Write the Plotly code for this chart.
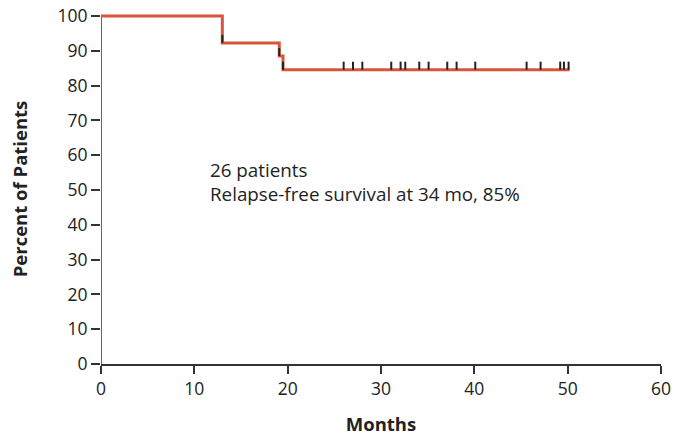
import plotly.graph_objects as go

# Kaplan-Meier step curve (months, percent)
step_months = [0, 13.0, 13.0, 19.1, 19.1, 19.5, 19.5, 50.2]
step_pct = [100, 100, 92.3, 92.3, 88.5, 88.5, 84.6, 84.6]

# Censor marks (months, percent level)
censor_months = [13.0, 19.1, 19.5, 26.0, 27.0, 28.0, 31.1, 32.1, 32.6, 34.1, 35.1,
                 37.1, 38.1, 40.1, 45.6, 47.1, 49.2, 49.6, 50.1]
censor_pct = [92.3, 88.5, 84.6] + [84.6] * 16

x_ticks = [0, 10, 20, 30, 40, 50, 60]
y_ticks = [0, 10, 20, 30, 40, 50, 60, 70, 80, 90, 100]

FONT = "Open Sans"
AX = "#333333"
TICK_H = 2.3

cx, cy = [], []
for m, p in zip(censor_months, censor_pct):
    cx += [m, m, None]
    cy += [p, p + TICK_H, None]

fig = go.Figure()
fig.add_trace(go.Scatter(x=step_months, y=step_pct, mode="lines",
                         line=dict(color="#D8553B", width=3), hoverinfo="skip"))
fig.add_trace(go.Scatter(x=cx, y=cy, mode="lines",
                         line=dict(color="#222222", width=2), hoverinfo="skip"))

fig.add_shape(type="line", xref="x", yref="y", x0=0, x1=0, y0=0, y1=100,
              line=dict(color=AX, width=1.5), layer="below")

fig.add_annotation(x=11.5, y=60.1, xref="x", yref="y", xanchor="left", yanchor="top",
                   text="26 patients<br>Relapse-free survival at 34 mo, 85%",
                   showarrow=False, align="left",
                   font=dict(family=FONT, size=18.8, color="#222222"))

fig.update_layout(
    width=674, height=436,
    margin=dict(l=101, r=13, t=14, b=72, autoexpand=False),
    plot_bgcolor="white", paper_bgcolor="white",
    showlegend=False,
    font=dict(family=FONT, size=17.5, color="#222222"),
    xaxis=dict(range=[0, 60], tickvals=x_ticks, ticks="outside", ticklen=8,
               tickwidth=1.5, tickcolor=AX, showline=True, linecolor=AX, linewidth=1.5,
               showgrid=False, zeroline=False, automargin=False,
               title=dict(text="<b>Months</b>", font=dict(family=FONT, size=18.5), standoff=21)),
    yaxis=dict(range=[0, 100.6], tickvals=y_ticks, ticks="outside", ticklen=9,
               tickwidth=1.5, tickcolor=AX, showline=False,
               showgrid=False, zeroline=False, automargin=False,
               title=dict(text="<b>Percent of Patients</b>", font=dict(family=FONT, size=18.5), standoff=24)),
)

fig.write_html("out.html")
